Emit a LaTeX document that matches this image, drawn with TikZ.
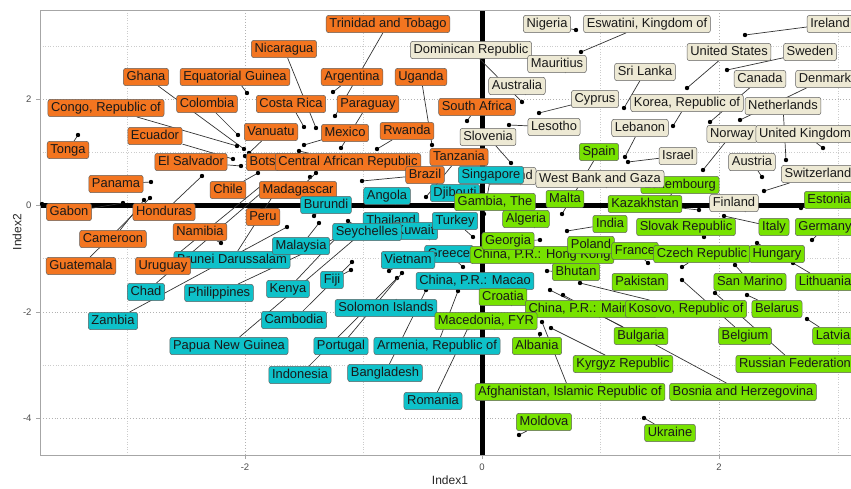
\documentclass[tikz,border=0pt]{standalone}
\usepackage{fontspec}
\setmainfont{Liberation Sans}
\usepackage{tikz}

\pgfdeclarelayer{grid}
\pgfdeclarelayer{segs}
\pgfsetlayers{grid,segs,main}

\definecolor{orangeC}{RGB}{243,117,32}
\definecolor{tealC}{RGB}{14,193,201}
\definecolor{beigeC}{RGB}{237,233,212}
\definecolor{greenC}{RGB}{119,226,0}

\tikzset{
  lab/.style={draw=gray!75!black, line width=0.5pt, rounded corners=2.5pt,
    inner xsep=3.2pt, inner ysep=2.7pt, text height=9.3pt, text depth=2.7pt,
    text=black!90, font=\fontsize{12.9pt}{14pt}\selectfont},
  grpA/.style={lab, fill=orangeC},
  grpB/.style={lab, fill=tealC},
  grpC/.style={lab, fill=beigeC},
  grpD/.style={lab, fill=greenC},
  seg/.style={line width=0.7pt, black!80},
  minorgrid/.style={gray!40, dotted, line width=0.6pt},
  majorgrid/.style={gray!60, dotted, line width=0.9pt},
  ticklab/.style={gray!60!black, font=\fontsize{9.5pt}{10pt}\selectfont},
}

% one country: style, name, point, label centre, text
\newcommand{\ctry}[5]{%
  \coordinate (d#2) at (#3);
  \node[#1] (#2) at (#4) {#5};
  \begin{pgfonlayer}{segs}
    \draw[seg] (#2) -- (d#2);
    \fill (d#2) circle (2.2pt);
  \end{pgfonlayer}}

\begin{document}
\begin{tikzpicture}[x=1pt, y=-1pt]
\useasboundingbox (0,0) rectangle (851,488);

\begin{pgfonlayer}{grid}
  \foreach \gx in {127,363,600,838} \draw[minorgrid] (\gx,10) -- (\gx,455);
  \foreach \gy in {46,152,258,365} \draw[minorgrid] (40,\gy) -- (860,\gy);
  \foreach \gx in {245,482,719} \draw[majorgrid] (\gx,10) -- (\gx,455);
  \foreach \gy in {99,205,312,418} \draw[majorgrid] (40,\gy) -- (860,\gy);
  \draw[line width=5pt] (482,10) -- (482,455);
  \draw[line width=5pt] (40,205) -- (860,205);
  \draw[gray!70, line width=1pt] (40,10) rectangle (860,455);
  \foreach \gx in {245,482,719} \draw[gray!70, line width=0.8pt] (\gx,455) -- (\gx,459);
  \foreach \gy in {99,205,312,418} \draw[gray!70, line width=0.8pt] (36,\gy) -- (40,\gy);
  \fill (42,204) circle (2.2pt);
  \fill (310,177) circle (2.2pt);
\end{pgfonlayer}

\node[ticklab, anchor=east] (ty1) at (35,99) {2};
\node[ticklab, anchor=east] (ty2) at (35,205) {0};
\node[ticklab, anchor=east] (ty3) at (35,312) {-2};
\node[ticklab, anchor=east] (ty4) at (35,418) {-4};
\node[ticklab, anchor=north] (tx1) at (245,460) {-2};
\node[ticklab, anchor=north] (tx2) at (482,460) {0};
\node[ticklab, anchor=north] (tx3) at (719,460) {2};
\node[font=\fontsize{12pt}{13pt}\selectfont, text=black!85] (xtitle) at (450,480) {Index1};
\node[font=\fontsize{12pt}{13pt}\selectfont, text=black!85, rotate=90] (ytitle) at (17,232) {Index2};

% cluster 1
\ctry{grpA}{trinidad}{335,116}{388,24}{Trinidad and Tobago}
\ctry{grpA}{nicaragua}{316,128}{284,49}{Nicaragua}
\ctry{grpA}{argentina}{333,92}{352,77}{Argentina}
\ctry{grpA}{paraguay}{341,148}{368,104}{Paraguay}
\ctry{grpA}{costarica}{304,127}{291,104}{Costa Rica}
\ctry{grpA}{mexico}{304,145}{345,133}{Mexico}
\ctry{grpA}{vanuatu}{249,153}{271,132}{Vanuatu}
\ctry{grpA}{ghana}{244,149}{146,77}{Ghana}
\ctry{grpA}{eqguinea}{247,93}{235,77}{Equatorial Guinea}
\ctry{grpA}{colombia}{238,135}{207,104}{Colombia}
\ctry{grpA}{congo}{237,146}{106,108}{Congo, Republic of}
\ctry{grpA}{ecuador}{233,159}{155,136}{Ecuador}
\ctry{grpA}{tonga}{78,135}{68,150}{Tonga}
\ctry{grpA}{elsalvador}{241,166}{191,162}{El Salvador}
\ctry{grpA}{botswana}{245,156}{278,162}{Botswana}
\ctry{grpA}{car}{299,151}{348,162}{Central African Republic}
\ctry{grpA}{rwanda}{377,149}{407,131}{Rwanda}
\ctry{grpA}{uganda}{432,145}{421,77}{Uganda}
\ctry{grpA}{southafrica}{467,121}{477,107}{South Africa}
\ctry{grpA}{tanzania}{426,197}{459,157}{Tanzania}
\ctry{grpA}{chile}{258,173}{228,190}{Chile}
\ctry{grpA}{panama}{151,182}{116,184}{Panama}
\ctry{grpA}{gabon}{123,203}{69,212}{Gabon}
\ctry{grpA}{honduras}{202,176}{164,212}{Honduras}
\ctry{grpA}{cameroon}{144,200}{113,239}{Cameroon}
\ctry{grpA}{guatemala}{150,198}{81,266}{Guatemala}
\ctry{grpA}{namibia}{221,243}{200,232}{Namibia}
\ctry{grpA}{peru}{262,207}{263,217}{Peru}
\ctry{grpB}{brunei}{278,188}{232,260}{Brunei Darussalam}
\ctry{grpA}{uruguay}{262,185}{163,266}{Uruguay}
\ctry{grpB}{chad}{268,187}{146,292}{Chad}
\ctry{grpA}{madagascar}{316,173}{298,190}{Madagascar}
\ctry{grpA}{brazil}{362,181}{425,175}{Brazil}

% cluster 3
\ctry{grpC}{nigeria}{576,30}{547,24}{Nigeria}
\ctry{grpC}{eswatini}{581,52}{647,24}{Eswatini, Kingdom of}
\ctry{grpC}{ireland}{745,35}{830,24}{Ireland}
\ctry{grpC}{dominican}{522,102}{471,50}{Dominican Republic}
\ctry{grpC}{mauritius}{560,67}{557,64}{Mauritius}
\ctry{grpC}{australia}{520,89}{517,86}{Australia}
\ctry{grpC}{cyprus}{539,113}{595,99}{Cyprus}
\ctry{grpC}{lesotho}{509,125}{554,127}{Lesotho}
\ctry{grpC}{slovenia}{511,163}{488,137}{Slovenia}
\ctry{grpC}{srilanka}{624,108}{645,72}{Sri Lanka}
\ctry{grpC}{korea}{673,126}{687,103}{Korea, Republic of}
\ctry{grpC}{usa}{687,88}{729,52}{United States}
\ctry{grpC}{sweden}{727,70}{810,52}{Sweden}
\ctry{grpC}{canada}{710,122}{760,79}{Canada}
\ctry{grpC}{denmark}{740,120}{825,79}{Denmark}
\ctry{grpC}{netherlands}{786,160}{783,106}{Netherlands}
\ctry{grpC}{lebanon}{625,157}{640,128}{Lebanon}
\ctry{grpC}{israel}{628,162}{678,156}{Israel}
\ctry{grpC}{norway}{703,170}{732,134}{Norway}
\ctry{grpC}{uk}{823,148}{805,134}{United Kingdom}
\ctry{grpC}{austria}{762,177}{752,162}{Austria}
\ctry{grpC}{switzerland}{764,191}{818,174}{Switzerland}
\ctry{grpC}{finland}{738,206}{734,203}{Finland}
\ctry{grpC}{iceland}{515,179}{512,176}{Iceland}

% cluster 2
\ctry{grpB}{zambia}{287,227}{113,321}{Zambia}
\ctry{grpB}{philippines}{336,238}{219,293}{Philippines}
\ctry{grpB}{malaysia}{319,223}{301,246}{Malaysia}
\ctry{grpB}{kenya}{338,236}{288,289}{Kenya}
\ctry{grpB}{burundi}{314,216}{326,205}{Burundi}
\ctry{grpB}{fiji}{351,270}{332,280}{Fiji}
\ctry{grpB}{cambodia}{352,262}{294,320}{Cambodia}
\ctry{grpB}{png}{357,237}{229,346}{Papua New Guinea}
\ctry{grpB}{indonesia}{397,278}{300,375}{Indonesia}
\ctry{grpB}{portugal}{402,273}{341,346}{Portugal}
\ctry{grpB}{solomon}{392,303}{386,308}{Solomon Islands}
\ctry{grpB}{greece}{463,267}{449,254}{Greece}
\ctry{grpB}{vietnam}{389,271}{408,260}{Vietnam}
\ctry{grpB}{armenia}{458,291}{437,346}{Armenia, Republic of}
\ctry{grpB}{bangladesh}{426,290}{385,373}{Bangladesh}
\ctry{grpB}{romania}{468,328}{433,401}{Romania}
\ctry{grpB}{macao}{482,284}{475,281}{China, P.R.: Macao}
\ctry{grpB}{thailand}{394,226}{391,221}{Thailand}
\ctry{grpB}{kuwait}{420,234}{415,231}{Kuwait}
\ctry{grpB}{seychelles}{348,221}{367,232}{Seychelles}
\ctry{grpB}{turkey}{473,237}{455,221}{Turkey}
\ctry{grpB}{angola}{390,199}{387,196}{Angola}
\ctry{grpB}{djibouti}{458,196}{455,193}{Djibouti}
\ctry{grpB}{singapore}{484,214}{491,175}{Singapore}

% cluster 4
\ctry{grpD}{spain}{562,214}{599,152}{Spain}
\ctry{grpD}{luxembourg}{668,198}{680,185}{Luxembourg}
\ctry{grpC}{westbank}{603,183}{600,179}{West Bank and Gaza}
\ctry{grpD}{malta}{568,203}{565,199}{Malta}
\ctry{grpD}{kazakhstan}{699,210}{645,204}{Kazakhstan}
\ctry{grpD}{estonia}{801,208}{829,200}{Estonia}
\ctry{grpD}{india}{567,231}{610,224}{India}
\ctry{grpD}{slovak}{704,237}{686,227}{Slovak Republic}
\ctry{grpD}{italy}{724,216}{774,227}{Italy}
\ctry{grpD}{germany}{812,240}{825,227}{Germany}
\ctry{grpD}{gambia}{498,205}{495,202}{Gambia, The}
\ctry{grpD}{algeria}{529,222}{526,219}{Algeria}
\ctry{grpD}{hongkong}{545,258}{542,255}{China, P.R.: Hong Kong}
\ctry{grpD}{georgia}{540,240}{508,241}{Georgia}
\ctry{grpD}{poland}{594,248}{591,245}{Poland}
\ctry{grpD}{france}{648,263}{635,251}{France}
\ctry{grpD}{czech}{682,267}{702,254}{Czech Republic}
\ctry{grpD}{hungary}{757,243}{777,254}{Hungary}
\ctry{grpD}{bhutan}{547,271}{576,272}{Bhutan}
\ctry{grpD}{pakistan}{643,285}{640,282}{Pakistan}
\ctry{grpD}{sanmarino}{735,265}{750,282}{San Marino}
\ctry{grpD}{lithuania}{793,263}{825,282}{Lithuania}
\ctry{grpD}{croatia}{506,300}{503,297}{Croatia}
\ctry{grpD}{mainland}{594,312}{591,309}{China, P.R.: Mainland}
\ctry{grpD}{kosovo}{580,283}{686,309}{Kosovo, Republic of}
\ctry{grpD}{belarus}{747,295}{777,309}{Belarus}
\ctry{grpD}{macedonia}{489,324}{486,321}{Macedonia, FYR}
\ctry{grpD}{bulgaria}{550,290}{641,336}{Bulgaria}
\ctry{grpD}{belgium}{682,280}{745,336}{Belgium}
\ctry{grpD}{latvia}{807,319}{833,336}{Latvia}
\ctry{grpD}{russia}{715,293}{795,364}{Russian Federation}
\ctry{grpD}{albania}{540,334}{537,346}{Albania}
\ctry{grpD}{kyrgyz}{551,328}{623,364}{Kyrgyz Republic}
\ctry{grpD}{afghanistan}{542,322}{570,392}{Afghanistan, Islamic Republic of}
\ctry{grpD}{bosnia}{563,295}{743,392}{Bosnia and Herzegovina}
\ctry{grpD}{moldova}{519,435}{544,422}{Moldova}
\ctry{grpD}{ukraine}{644,418}{670,433}{Ukraine}
\end{tikzpicture}
\end{document}
